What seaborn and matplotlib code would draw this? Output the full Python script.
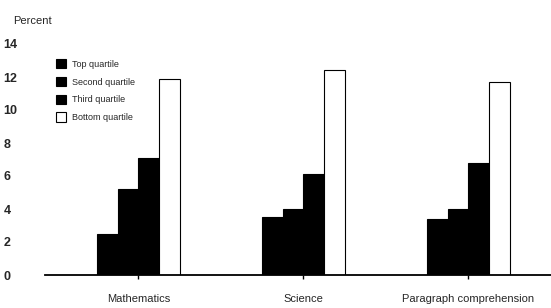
import matplotlib
matplotlib.use("Agg")
import matplotlib.pyplot as plt
import seaborn as sns
import pandas as pd
from matplotlib.patches import Patch

subjects = ["Mathematics", "Science", "Paragraph comprehension"]
quartiles = ["Top quartile", "Second quartile", "Third quartile", "Bottom quartile"]
top_q = [2.5, 3.5, 3.4]
second_q = [5.2, 4.0, 4.0]
third_q = [7.1, 6.1, 6.8]
bottom_q = [11.9, 12.4, 11.7]
yticks = [0, 2, 4, 6, 8, 10, 12, 14]

rows = []
for q, vals in zip(quartiles, [top_q, second_q, third_q, bottom_q]):
    for s, v in zip(subjects, vals):
        rows.append({"Subject": s, "Quartile": q, "Percent": v})
df = pd.DataFrame(rows)

sns.set_theme(style="white")
plt.rcParams["font.family"] = ["Liberation Sans", "DejaVu Sans"]

fig = plt.figure(figsize=(5.51, 3.08), dpi=100)
ax = fig.add_axes([45/551, 1-275/308, 1-45/551, (275-44)/308])

palette = {"Top quartile": "black", "Second quartile": "black",
           "Third quartile": "black", "Bottom quartile": "white"}
sns.barplot(data=df, x="Subject", y="Percent", hue="Quartile", order=subjects,
            hue_order=quartiles, palette=palette, width=0.5, gap=0,
            edgecolor="black", linewidth=0.8, saturation=1, ax=ax, legend=False)

ax.set_xlim(-0.565, 2.5)
ax.set_ylim(0, 14)
ax.set_yticks(yticks)
ax.set_yticklabels([str(t) for t in yticks], fontsize=9, fontweight="bold")
for lab in ax.get_yticklabels():
    lab.set_ha("left")
ax.tick_params(axis="y", length=0, pad=30)
ax.tick_params(axis="x", bottom=True, length=3, width=1, color="black",
               direction="out", labelsize=8, pad=11)
ax.set_xlabel("")
ax.set_ylabel("")
for sp in ["top", "right", "left"]:
    ax.spines[sp].set_visible(False)
ax.spines["bottom"].set_color("black")
ax.spines["bottom"].set_linewidth(1.3)

handles = [Patch(facecolor=palette[q], edgecolor="black", linewidth=0.8, label=q)
           for q in quartiles]
leg = ax.legend(handles=handles, loc="upper left", bbox_to_anchor=(0.005, 0.97),
                frameon=False, fontsize=6.5, handlelength=1.2, handleheight=1.2,
                labelspacing=0.9, handletextpad=0.6)

fig.text(13/551, 1-21/308, "Percent", fontsize=8, va="center", ha="left")

fig.savefig("out.png", dpi=100)
